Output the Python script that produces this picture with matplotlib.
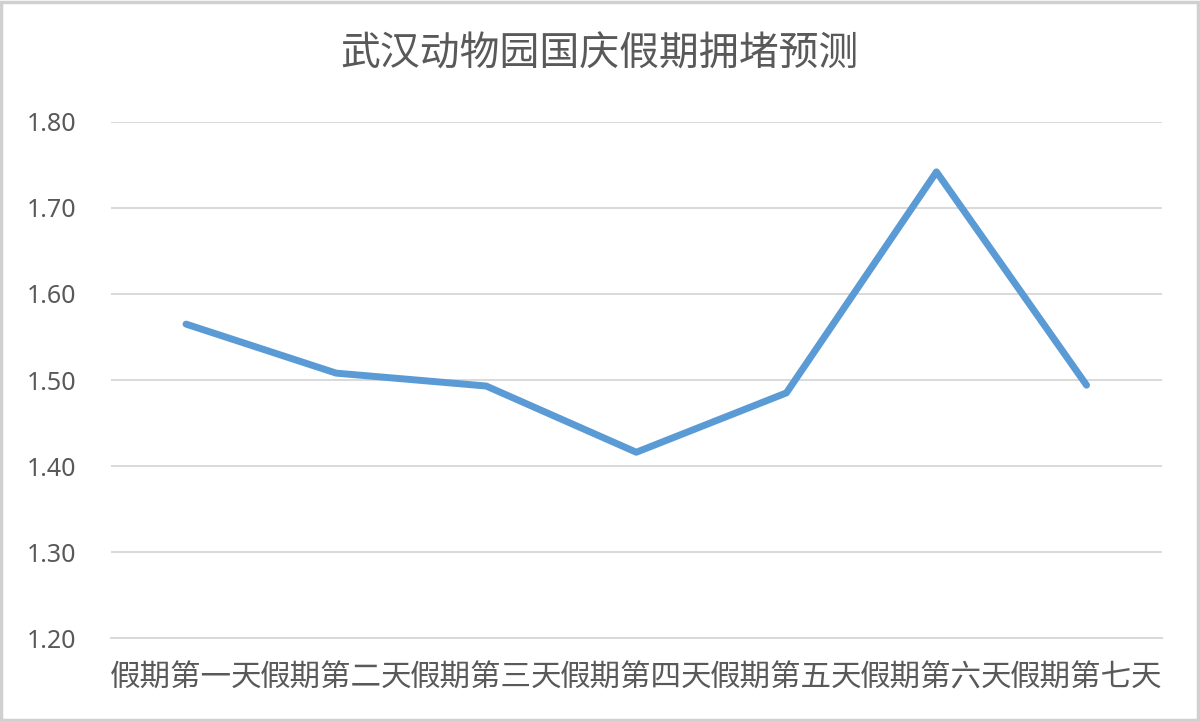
import matplotlib
matplotlib.use("Agg")
import matplotlib.pyplot as plt
from matplotlib.patches import Rectangle

plt.rcParams["font.family"] = ["Noto Sans CJK SC", "DejaVu Sans"]

# data
days = ["假期第一天", "假期第二天", "假期第三天", "假期第四天",
        "假期第五天", "假期第六天", "假期第七天"]
congestion = [1.565, 1.508, 1.493, 1.416, 1.485, 1.742, 1.494]
y_ticks = [1.20, 1.30, 1.40, 1.50, 1.60, 1.70, 1.80]
title = "武汉动物园国庆假期拥堵预测"

text_col = "#595959"
grid_col = "#d9d9d9"
line_col = "#5b9bd5"

fig = plt.figure(figsize=(12, 7.21), dpi=100)
ax = fig.add_axes([0.0925, 0.1151, 0.8755, 0.7157])

x = list(range(len(days)))
ax.plot(x, congestion, color=line_col, linewidth=5.0,
        solid_joinstyle="round", solid_capstyle="round", zorder=3)

ax.set_xlim(-0.5, len(days) - 0.5)
ax.set_ylim(y_ticks[0], y_ticks[-1])
ax.set_yticks(y_ticks)
ax.set_yticklabels([f"{v:.2f}" for v in y_ticks], family=["Noto Sans", "DejaVu Sans"])
ax.set_xticks(x)
ax.set_xticklabels(days)
ax.tick_params(axis="y", length=0, pad=25, labelsize=18, labelcolor=text_col)
ax.tick_params(axis="x", length=0, pad=18, labelsize=22, labelcolor=text_col)

ax.grid(axis="y", color=grid_col, linewidth=1.4)
ax.set_axisbelow(True)
for side in ["top", "right", "left"]:
    ax.spines[side].set_visible(False)
ax.spines["bottom"].set_color(grid_col)
ax.spines["bottom"].set_linewidth(1.4)

fig.text(0.5, 0.925, title, ha="center", va="center",
         fontsize=28.7, color=text_col)

# thin grey frame around the chart area
fig.patches.append(Rectangle((0.001, 0.002), 0.997, 0.995, transform=fig.transFigure,
                             fill=False, edgecolor="#d0d0d0", linewidth=2.5))

fig.savefig("out.png", dpi=100, facecolor="white")
